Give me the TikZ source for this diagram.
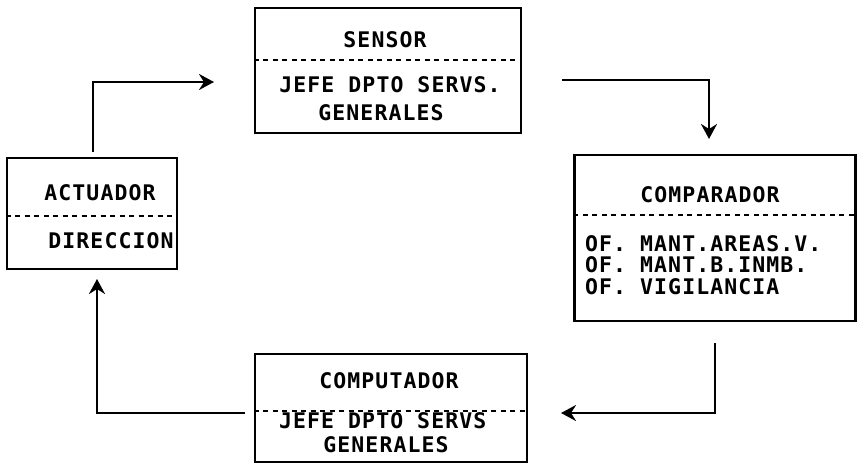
\documentclass[tikz,border=0pt]{standalone}
\usepackage{fontspec}
\newfontfamily\pmono[LetterSpace=5]{DejaVu Sans Mono}
\usetikzlibrary{arrows.meta}
\tikzset{
  blk/.style={draw=black, line width=2.8pt, rectangle, inner sep=0pt},
  txt/.style={font=\pmono\bfseries\fontsize{21.5}{20.5}\selectfont, inner sep=0pt, anchor=base},
  ltxt/.style={txt, anchor=base west, align=left},
  sep/.style={draw=black, line width=2pt, dash pattern=on 5pt off 4.5pt},
  conn/.style={draw=black, line width=2.8pt, -{Stealth[length=15pt,width=16pt,inset=5pt]}},
}
\begin{document}
\begin{tikzpicture}[x=1pt,y=-1pt]
\useasboundingbox (0,0) rectangle (858,464);
% boxes
\node[blk, minimum width=266pt, minimum height=125pt] (sen) at (388,70.5) {};
\node[blk, minimum width=170pt, minimum height=111pt] (act) at (92,213.5) {};
\node[blk, minimum width=281pt, minimum height=166pt] (com) at (715,238) {};
\node[blk, minimum width=272pt, minimum height=108pt] (cpt) at (391,408) {};
% separators
\draw[sep] (sen.west |- 0,60) -- (sen.east |- 0,60);
\draw[sep] (act.west |- 0,216) -- (act.east |- 0,216);
\draw[sep] (com.west |- 0,215) -- (com.east |- 0,215);
\draw[sep] (cpt.west |- 0,411) -- (cpt.east |- 0,411);
% texts
\node[txt] (senT) at (385,47) {SENSOR};
\node[txt] (senA) at (390,92) {JEFE DPTO SERVS.};
\node[txt] (senB) at (381,120) {GENERALES};
\node[txt] (actT) at (100,200) {ACTUADOR};
\node[txt] (actA) at (111,248) {DIRECCION};
\node[txt] (comT) at (710,202) {COMPARADOR};
\node[ltxt, anchor=north west] (comA) at (585,235) {OF. MANT.AREAS.V.\\[1.2pt]OF. MANT.B.INMB.\\[1.2pt]OF. VIGILANCIA};
\node[txt] (cptT) at (389,388) {COMPUTADOR};
\node[ltxt] (cptA) at (279,428) {JEFE DPTO SERVS};
\node[txt] (cptB) at (386,452) {GENERALES};
% connector ends
\coordinate (a1) at (93,152);
\coordinate (a2) at (214,82);
\coordinate (b1) at (562,80);
\coordinate (b2) at (709,139);
\coordinate (c1) at (715,343);
\coordinate (c2) at (561,413);
\coordinate (d1) at (245,413);
\coordinate (d2) at (97,279);
% connectors
\draw[conn] (a1) |- (a2);
\draw[conn] (b1) -| (b2);
\draw[conn] (c1) |- (c2);
\draw[conn] (d1) -| (d2);
\end{tikzpicture}
\end{document}
